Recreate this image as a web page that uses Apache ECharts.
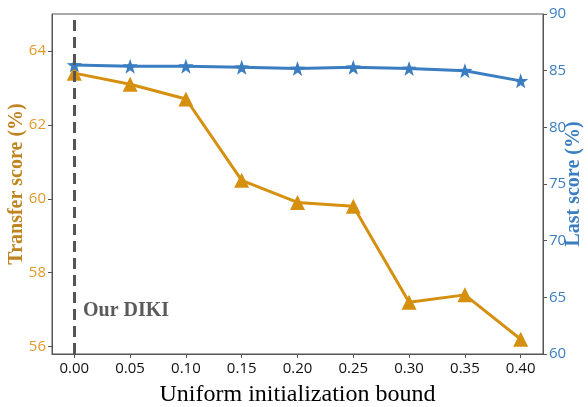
<!DOCTYPE html>
<html>
<head>
<meta charset="utf-8">
<script src="https://cdn.jsdelivr.net/npm/echarts@6/dist/echarts.min.js"></script>
<style>html,body{margin:0;padding:0;background:#fff}#c{width:588px;height:407px}</style>
</head>
<body>
<div id="c"></div>
<script>
const bounds = [0.00, 0.05, 0.10, 0.15, 0.20, 0.25, 0.30, 0.35, 0.40];
const transferScore = [63.4, 63.1, 62.7, 60.5, 59.9, 59.8, 57.2, 57.4, 56.2];
const lastScore = [85.5, 85.4, 85.4, 85.3, 85.2, 85.3, 85.2, 85.0, 84.1];
const xTicks = [0.00, 0.05, 0.10, 0.15, 0.20, 0.25, 0.30, 0.35, 0.40];
const leftTicks = [56, 58, 60, 62, 64];

const ORANGE = '#D6900F';
const ORANGE_TXT = '#E09A2A';
const ORANGE_NAME = '#BE8420';
const BLUE = '#3A7DC0';
const AX = '#555555';

const chart = echarts.init(document.getElementById('c'), null, {renderer: 'canvas'});
chart.setOption({
  animation: false,
  grid: {left: 52, right: 45, top: 14, bottom: 53, containLabel: false, outerBoundsMode: 'none',
         show: true, borderColor: AX, borderWidth: 1, backgroundColor: 'transparent'},
  xAxis: {
    type: 'value', min: -0.02, max: 0.42,
    name: 'Uniform initialization bound', nameLocation: 'middle', nameGap: 29, nameMoveOverlap: false,
    nameTextStyle: {fontFamily: 'Liberation Serif', fontSize: 24, color: '#000'},
    axisLine: {show: true, onZero: false, lineStyle: {color: AX, width: 1}},
    axisTick: {show: true, customValues: xTicks, length: 4, lineStyle: {color: AX}},
    axisLabel: {customValues: xTicks, formatter: v => v.toFixed(2), fontFamily: 'Open Sans', fontSize: 15, color: '#111', margin: 7},
    splitLine: {show: false}
  },
  yAxis: [{
    type: 'value', min: 55.8, max: 65.0, position: 'left',
    name: 'Transfer score (%)', nameLocation: 'middle', nameGap: 25, nameRotate: 90, nameMoveOverlap: false,
    nameTextStyle: {fontFamily: 'Liberation Serif', fontWeight: 'bold', fontSize: 20, color: ORANGE_NAME},
    axisLine: {show: true, onZero: false, lineStyle: {color: AX, width: 1}},
    axisTick: {show: true, customValues: leftTicks, length: 4, lineStyle: {color: AX}},
    axisLabel: {customValues: leftTicks, fontFamily: 'Open Sans', fontSize: 15, color: ORANGE_TXT, margin: 6},
    splitLine: {show: false}
  }, {
    type: 'value', min: 60, max: 90, interval: 5, position: 'right',
    name: 'Last score (%)', nameLocation: 'middle', nameGap: 21, nameRotate: 90, nameMoveOverlap: false,
    nameTextStyle: {fontFamily: 'Liberation Serif', fontWeight: 'bold', fontSize: 20, color: BLUE},
    axisLine: {show: true, onZero: false, lineStyle: {color: AX, width: 1}},
    axisTick: {show: true, length: 4, lineStyle: {color: AX}},
    axisLabel: {fontFamily: 'Open Sans', fontSize: 15, color: BLUE, margin: 6},
    splitLine: {show: false}
  }],
  series: [{
    name: 'Transfer', type: 'line', yAxisIndex: 0,
    data: bounds.map((b, i) => [b, transferScore[i]]),
    symbol: 'triangle', symbolSize: 15,
    lineStyle: {color: ORANGE, width: 3}, itemStyle: {color: ORANGE},
    z: 3,
    markLine: {
      silent: true, symbol: 'none', label: {show: false},
      lineStyle: {color: '#555', width: 3, type: [11, 6]},
      data: [[{coord: [0, 55.8]}, {coord: [0, 65.0]}]]
    }
  }, {
    name: 'Last', type: 'line', yAxisIndex: 1,
    data: bounds.map((b, i) => [b, lastScore[i]]),
    symbol: 'path://M0,-10 L2.35,-3.24 L9.51,-3.09 L3.8,1.24 L5.88,8.09 L0,4 L-5.88,8.09 L-3.8,1.24 L-9.51,-3.09 L-2.35,-3.24 Z',
    symbolSize: 15,
    lineStyle: {color: BLUE, width: 3}, itemStyle: {color: BLUE},
    z: 4
  }],
  graphic: [{
    type: 'text', left: 83, top: 301,
    style: {text: 'Our DIKI', fontFamily: 'Liberation Serif', fontWeight: 'bold', fontSize: 20, fill: '#5a5a5a'}
  }]
});
</script>
</body>
</html>
